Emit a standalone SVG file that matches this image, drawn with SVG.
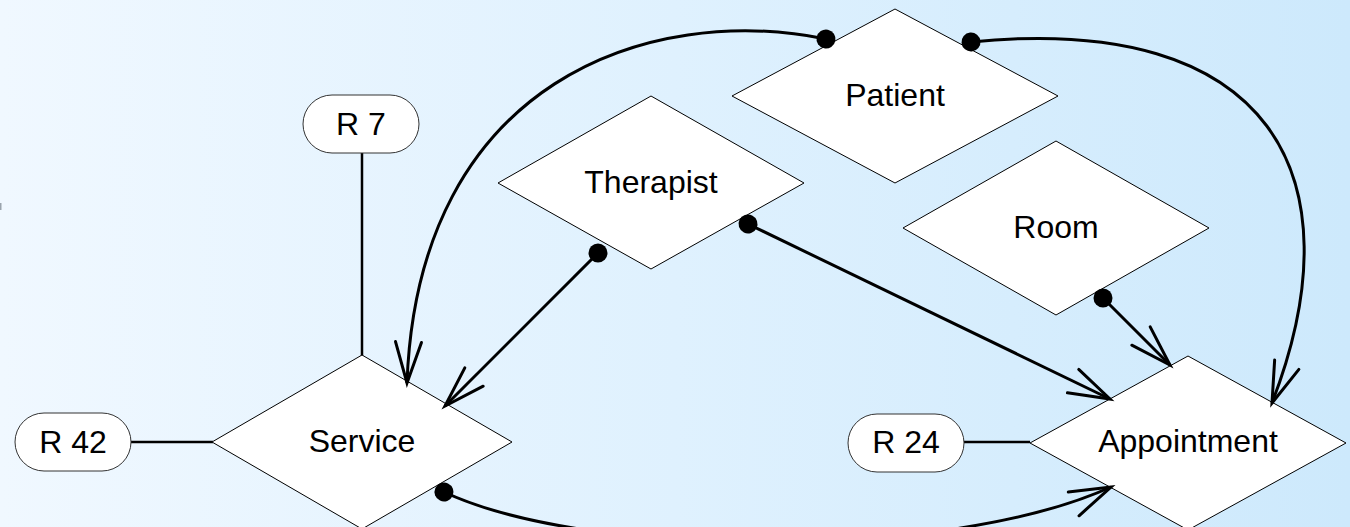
<svg xmlns="http://www.w3.org/2000/svg" width="1350" height="527" viewBox="0 0 1350 527">
  <defs>
    <linearGradient id="bg" x1="0" y1="0" x2="1" y2="0">
      <stop offset="0" stop-color="#f0f8ff"/>
      <stop offset="0.5" stop-color="#dff1fe"/>
      <stop offset="1" stop-color="#cde9fc"/>
    </linearGradient>
    <marker id="arrow" markerUnits="userSpaceOnUse" markerWidth="60" markerHeight="40" viewBox="-50 -20 60 40" refX="0" refY="0" orient="auto" overflow="visible">
      <path d="M -41 -13 L 0 0 L -41 13" fill="none" stroke="#000" stroke-width="3" stroke-linecap="round" stroke-linejoin="miter"/>
    </marker>
    <marker id="dot" markerUnits="userSpaceOnUse" markerWidth="24" markerHeight="24" viewBox="-12 -12 24 24" refX="0" refY="0" orient="auto" overflow="visible">
      <circle cx="0" cy="0" r="9.5" fill="#000"/>
    </marker>
  </defs>
  <style>
    .diamond { fill: #ffffff; stroke: #000; stroke-width: 1; }
    .attr { fill: #ffffff; stroke: #333; stroke-width: 1; }
    .label { font-family: "Liberation Sans", Arial, sans-serif; font-size: 32px; fill: #000; text-anchor: middle; }
    .conn { fill: none; stroke: #000; stroke-width: 3; marker-start: url(#dot); marker-end: url(#arrow); }
    .link { fill: none; stroke: #000; stroke-width: 2.5; }
  </style>
  <rect x="0" y="0" width="1350" height="527" fill="url(#bg)"/>
  <rect x="0" y="203" width="1.5" height="7" fill="#9aa4ad"/>

  <g id="links">
    <line class="link" x1="362" y1="153" x2="362" y2="356"/>
    <line class="link" x1="131" y1="442" x2="213" y2="442"/>
    <line class="link" x1="964" y1="442" x2="1030" y2="442"/>
  </g>

  <g id="node-patient">
    <polygon class="diamond" points="895,9 1058,96 895,183 732,96"/>
    <text class="label" x="895" y="106">Patient</text>
  </g>
  <g id="node-therapist">
    <polygon class="diamond" points="651,96 804,183 651,269 498,183"/>
    <text class="label" x="651" y="193">Therapist</text>
  </g>
  <g id="node-room">
    <polygon class="diamond" points="1056,141 1209,228 1056,315 903,228"/>
    <text class="label" x="1056" y="238">Room</text>
  </g>
  <g id="node-service">
    <polygon class="diamond" points="362,355 512,442 362,529 212,442"/>
    <text class="label" x="362" y="452">Service</text>
  </g>
  <g id="node-appointment">
    <polygon class="diamond" points="1188,356 1346,443 1188,530 1030,443"/>
    <text class="label" x="1188" y="452">Appointment</text>
  </g>
  <g id="node-r7">
    <rect class="attr" x="303" y="95" width="116" height="58" rx="29" ry="29"/>
    <text class="label" x="361" y="135">R 7</text>
  </g>
  <g id="node-r42">
    <rect class="attr" x="15" y="413" width="116" height="58" rx="29" ry="29"/>
    <text class="label" x="73" y="453">R 42</text>
  </g>
  <g id="node-r24">
    <rect class="attr" x="848" y="414" width="116" height="58" rx="29" ry="29"/>
    <text class="label" x="906" y="453">R 24</text>
  </g>

  <g id="connectors">
    <path class="conn" d="M 826 39 C 650 3, 418 80, 407 383"/>
    <path class="conn" d="M 971 42 C 1270 12, 1360 175, 1272 403"/>
    <path class="conn" d="M 598 253 L 445 406"/>
    <path class="conn" d="M 748 224 L 1110 399"/>
    <path class="conn" d="M 1103 298 L 1170 365"/>
    <path class="conn" d="M 444 492 C 590 560, 950 560, 1111 487"/>
  </g>
</svg>
